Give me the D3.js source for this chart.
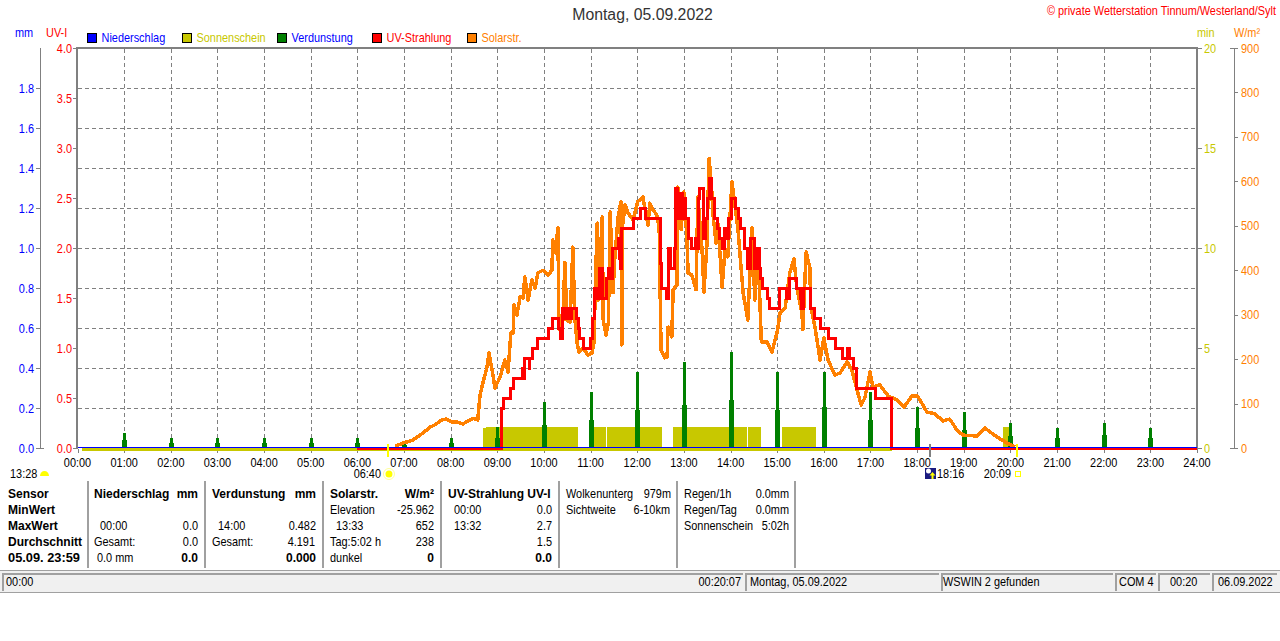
<!DOCTYPE html>
<html><head><meta charset="utf-8">
<script src="https://cdnjs.cloudflare.com/ajax/libs/d3/7.8.5/d3.min.js"></script>
<style>
html,body{margin:0;padding:0;background:#fff;overflow:hidden}
svg{display:block}
text{font-family:"Liberation Sans",Arial,sans-serif;font-size:12px}
</style></head><body><svg id="c" width="1280" height="641"></svg>
<script>
const title="Montag, 05.09.2022";
const copyright="© private Wetterstation Tinnum/Westerland/Sylt";
const hourTicks=d3.range(0,25);
const mmTicks=[0,0.2,0.4,0.6,0.8,1.0,1.2,1.4,1.6,1.8];
const uvTicks=[0,0.5,1,1.5,2,2.5,3,3.5,4];
const minTicks=[0,5,10,15,20];
const wTicks=[0,100,200,300,400,500,600,700,800,900];
const gridMm=d3.range(0,2.01,0.2);
const legendNames=["Niederschlag","Sonnenschein","Verdunstung","UV-Strahlung","Solarstr."];
const legendFill=["#0000ff","#c8c800","#008000","#ff0000","#ff8000"];
const legendText=["#0000ff","#c8c800","#0000ff","#ff0000","#ff8000"];

// hour, W/m2
const solarHours=[6.81,6.98,7.19,7.41,7.56,7.66,7.81,7.90,8.03,8.16,8.26,8.41,8.48,8.58,8.63,8.69,8.78,8.82,8.89,8.95,9.06,9.10,9.16,9.23,9.29,9.34,9.36,9.42,9.49,9.55,9.59,9.66,9.74,9.81,9.87,9.98,10.09,10.17,10.19,10.24,10.30,10.32,10.39,10.45,10.49,10.56,10.62,10.66,10.71,10.75,10.84,10.94,11.03,11.07,11.14,11.16,11.25,11.27,11.33,11.38,11.42,11.48,11.52,11.59,11.65,11.67,11.68,11.74,11.80,11.91,12.01,12.12,12.17,12.23,12.27,12.34,12.42,12.47,12.51,12.59,12.64,12.66,12.74,12.77,12.85,12.87,12.94,13.00,13.06,13.09,13.17,13.26,13.30,13.39,13.43,13.49,13.54,13.60,13.62,13.69,13.73,13.82,13.88,13.94,14.03,14.10,14.16,14.27,14.37,14.46,14.52,14.59,14.66,14.78,14.89,15.01,15.06,15.17,15.27,15.36,15.42,15.53,15.55,15.62,15.70,15.72,15.81,15.92,16.00,16.09,16.24,16.35,16.50,16.60,16.71,16.80,16.88,16.99,17.05,17.20,17.38,17.57,17.72,17.89,18.01,18.21,18.38,18.55,18.70,18.85,18.98,19.28,19.45,19.71,19.93,20.10];
const solarValues=[4,11,18,34,47,52,63,65,58,58,54,63,67,63,119,146,182,214,175,135,160,175,198,171,259,259,322,299,340,337,385,333,378,360,394,400,389,400,468,439,495,272,250,418,288,283,452,295,236,216,225,209,214,236,506,333,520,288,254,281,531,349,430,520,554,232,497,547,529,513,554,565,536,502,551,536,524,497,220,203,205,272,250,356,367,587,491,576,484,394,389,356,565,446,351,452,652,574,529,461,506,362,446,430,599,542,491,349,288,495,333,446,239,239,216,266,304,315,394,425,362,304,266,441,407,317,272,198,248,198,164,169,194,176,131,97,113,171,137,142,117,108,92,117,117,81,77,61,65,41,29,27,45,25,11,2];

// hour at which each UV reading starts, UV index
const uvHours=[6.00,9.07,9.08,9.10,9.13,9.28,9.35,9.53,9.55,9.58,9.68,9.70,9.75,9.87,10.09,10.19,10.31,10.36,10.39,10.47,10.50,10.56,10.58,10.69,10.73,10.77,10.84,11.00,11.05,11.08,11.09,11.14,11.18,11.20,11.25,11.35,11.38,11.42,11.46,11.59,11.63,11.65,11.66,11.91,12.06,12.17,12.50,12.51,12.62,12.66,12.68,12.72,12.79,12.83,12.87,12.92,12.96,12.98,13.04,13.09,13.17,13.24,13.28,13.32,13.34,13.41,13.47,13.51,13.55,13.60,13.66,13.71,13.77,13.82,13.88,13.92,13.96,14.01,14.10,14.16,14.22,14.29,14.37,14.42,14.52,14.57,14.63,14.65,14.69,14.80,14.84,15.06,15.21,15.27,15.42,15.49,15.53,15.57,15.72,15.81,15.92,16.09,16.24,16.39,16.50,16.54,16.63,16.71,17.10,17.44,17.46,24];
const uvValues=[0,0,0.3,0.4,0.5,0.6,0.7,0.8,0.7,0.9,0.8,0.9,1.0,1.1,1.2,1.3,1.2,1.1,1.4,1.3,1.4,1.3,1.4,1.3,1.2,1.1,1.0,1.1,1.3,1.4,1.6,1.5,1.7,1.8,1.5,1.7,1.8,1.7,2.0,2.1,1.9,1.8,2.2,2.3,2.4,2.3,1.85,1.6,1.5,1.7,2.0,1.8,2.0,2.6,2.3,2.55,2.3,2.5,2.3,2.1,2.0,2.1,2.0,2.5,2.6,2.1,2.3,2.5,2.7,2.5,2.3,2.2,2.1,2.0,2.2,2.1,2.3,2.5,2.4,2.3,2.2,2.0,1.8,2.1,1.8,2.0,1.8,1.7,1.6,1.5,1.4,1.6,1.5,1.7,1.6,1.5,1.4,1.6,1.4,1.3,1.2,1.1,1.0,0.9,1.0,0.9,0.8,0.6,0.5,0.25,0,0];

// evaporation at each full hour, mm
const evapHours=[1,2,3,4,5,6,7,8,9,10,11,12,13,14,15,16,17,18,19,20,21,22,23];
const evapPeak=[0.075,0.05,0.05,0.05,0.05,0.05,0.03,0.05,0.105,0.23,0.28,0.38,0.43,0.482,0.38,0.38,0.28,0.205,0.18,0.125,0.10,0.125,0.10];
const evapLow=[0.04,0.025,0.025,0.025,0.025,0.025,0.015,0.025,0.05,0.115,0.14,0.19,0.215,0.24,0.19,0.205,0.14,0.10,0.09,0.06,0.05,0.065,0.05];

// sunshine blocks: start hour, end hour, minutes
const sunStart=[8.69,8.75,11.07,11.35,12.76,14.37,15.10,19.84];
const sunEnd=[8.75,10.73,11.33,12.53,14.35,14.66,15.83,19.98];
const sunMin=[1.0,1.05,1.05,1.05,1.05,1.05,1.05,1.05];

const hourLabel=h=>String(h).padStart(2,"0")+":00";
const svg=d3.select("#c");
const x=d3.scaleLinear().domain([0,24]).range([77.5,1197]);
const yMm=d3.scaleLinear().domain([0,2]).range([448,48]);
const yUv=d3.scaleLinear().domain([0,4]).range([448,48]);
const yMin=d3.scaleLinear().domain([0,20]).range([448,48]);
const yW=d3.scaleLinear().domain([0,900]).range([448,48]);
const GREY="#808080";

function T(px,py,s,o={}){
  const sx=o.sx||(o.bold||o.size?1:0.91);
  return svg.append("text").attr("transform",`translate(${px},${py}) scale(${sx},1)`).text(s)
    .attr("fill",o.fill||"#000").attr("text-anchor",o.anchor||"start")
    .style("font-size",(o.size||12)+"px").style("font-weight",o.bold?"bold":"normal");
}
function L(x1,y1,x2,y2,c,w,dash){
  const l=svg.append("line").attr("x1",x1).attr("y1",y1).attr("x2",x2).attr("y2",y2)
   .attr("stroke",c).attr("stroke-width",w||1).attr("shape-rendering","crispEdges");
  if(dash)l.attr("stroke-dasharray",dash);return l;
}
// grid
svg.append("g").selectAll("line").data(hourTicks.slice(1,24)).join("line")
  .attr("x1",d=>Math.round(x(d))+.5).attr("x2",d=>Math.round(x(d))+.5).attr("y1",49).attr("y2",448)
  .attr("stroke",GREY).attr("stroke-dasharray","4 3").attr("shape-rendering","crispEdges");
svg.append("g").selectAll("line").data(gridMm.slice(1,10)).join("line")
  .attr("y1",d=>Math.round(yMm(d))+.5).attr("y2",d=>Math.round(yMm(d))+.5).attr("x1",78).attr("x2",1196)
  .attr("stroke",GREY).attr("stroke-dasharray","4 3").attr("shape-rendering","crispEdges");
// frame
L(76,48,1198,48,GREY,2);
L(77,48,77,449,GREY,2);
L(1197,48,1197,449,GREY,2);
// axes
L(40.5,48,40.5,449,GREY,1);
mmTicks.forEach(v=>{L(36,yMm(v)+.5,v==0?44:41,yMm(v)+.5,GREY);
  T(34,yMm(v)+4.5,d3.format(".1f")(v),{fill:"#0000ff",anchor:"end"});});
uvTicks.forEach(v=>{L(73,yUv(v)+.5,77,yUv(v)+.5,GREY);
  T(72,yUv(v)+4.5,d3.format(".1f")(v),{fill:"#ff0000",anchor:"end"});});
minTicks.forEach(v=>{L(1198,yMin(v)+.5,1202,yMin(v)+.5,GREY);
  T(1204,yMin(v)+4.5,String(v),{fill:"#c8c800"});});
L(1234.5,48,1234.5,449,GREY,1);
wTicks.forEach(v=>{L(v==0||v==900?1230:1235,yW(v)+.5,1238,yW(v)+.5,GREY);
  T(1241,yW(v)+4.5,String(v),{fill:"#ff8000"});});
hourTicks.forEach(h=>{L(Math.round(x(h))+.5,449,Math.round(x(h))+.5,453,GREY);
  T(x(h),467,hourLabel(h),{anchor:"middle"});});
// sunshine
svg.append("g").selectAll("rect").data(sunStart).join("rect")
  .attr("x",(d,i)=>x(d)).attr("width",(d,i)=>x(sunEnd[i])-x(d))
  .attr("y",(d,i)=>yMin(sunMin[i])).attr("height",(d,i)=>yMin(0)-yMin(sunMin[i]))
  .attr("fill","#c8c800").attr("shape-rendering","crispEdges");
svg.append("path").attr("d",d3.line()([[x(0)+4,yMin(0)+1],[x(17.46),yMin(0)+1]]))
  .attr("stroke","#c8c800").attr("stroke-width",3).attr("fill","none").attr("shape-rendering","crispEdges");
// evaporation
svg.append("g").selectAll("rect").data(evapHours).join("rect")
  .attr("x",d=>Math.round(x(d))-1).attr("width",3)
  .attr("y",(d,i)=>yMm(evapPeak[i])).attr("height",(d,i)=>yMm(0)-yMm(evapPeak[i]))
  .attr("fill","#008000").attr("shape-rendering","crispEdges");
svg.append("g").selectAll("rect").data(evapHours).join("rect")
  .attr("x",d=>Math.round(x(d))-2).attr("width",5)
  .attr("y",(d,i)=>yMm(evapLow[i])).attr("height",(d,i)=>yMm(0)-yMm(evapLow[i]))
  .attr("fill","#008000").attr("shape-rendering","crispEdges");
// solar
svg.append("path").datum(solarHours.map((h,i)=>[h,solarValues[i]]))
  .attr("d",d3.line().x(d=>x(d[0])).y(d=>yW(d[1])))
  .attr("fill","none").attr("stroke","#ff8000").attr("stroke-width",3.5).attr("stroke-linejoin","round").attr("shape-rendering","crispEdges");
// UV
svg.append("path").datum(uvHours.map((h,i)=>[h,uvValues[i]]))
  .attr("d",d3.line().curve(d3.curveStepAfter).x(d=>x(d[0])).y(d=>yUv(d[1])+.5))
  .attr("fill","none").attr("stroke","#ff0000").attr("stroke-width",3).attr("shape-rendering","crispEdges");
// precipitation
svg.append("path").attr("d",d3.line()([[x(0),yMm(0)-.5],[x(24),yMm(0)-.5]]))
  .attr("stroke","#0000ff").attr("stroke-width",1).attr("fill","none").attr("shape-rendering","crispEdges");
// texts top
T(642.5,20,title,{anchor:"middle",size:15.8,fill:"#333"});
T(1276,15,copyright,{anchor:"end",fill:"#ff0000"});
T(15,37,"mm",{fill:"#0000ff"});T(46,37,"UV-I",{fill:"#ff0000"});
T(1197,37,"min",{fill:"#c8c800"});T(1234,37,"W/m²",{fill:"#ff8000"});
legendNames.forEach((n,i)=>{
  const lx=87.5+95*i;
  svg.append("rect").attr("x",lx).attr("y",33.5).attr("width",9).attr("height",9)
    .attr("fill",legendFill[i]).attr("stroke","#000").attr("shape-rendering","crispEdges");
  T(lx+14,42,n,{fill:legendText[i]});
});
// sun marks
const sunrise=6+40/60, sunset=20+9/60, moon=18+16/60;
L(x(sunrise),444,x(sunrise),457,"#ffff00",2);
L(x(sunset),444,x(sunset),457,"#ffff00",2);
L(x(moon),444,x(moon),457,GREY,2);
T(381,478,"06:40",{anchor:"end"});
svg.append("circle").attr("cx",x(sunrise)+.5).attr("cy",474).attr("r",3.5).attr("fill","#ffff00");
svg.append("circle").attr("cx",x(sunrise)+.5).attr("cy",474).attr("r",5.5).attr("fill","none").attr("stroke","#ffff99");
T(10,478,"13:28");
svg.append("path").attr("d","M40 476a4.5 5 0 0 1 9 0z").attr("fill","#ffff00");
svg.append("rect").attr("x",925).attr("y",468).attr("width",11).attr("height",11).attr("fill","#1a1a80");
svg.append("circle").attr("cx",928.5).attr("cy",471).attr("r",2.5).attr("fill","#fff");
svg.append("path").attr("d","M932.5 472l3 3.5h-2v3.5h-2v-3.5h-2z").attr("fill","#ffff00");
T(937,478,"18:16");
T(1011,478,"20:09",{anchor:"end"});
svg.append("rect").attr("x",1015.5).attr("y",471.5).attr("width",5).attr("height",5).attr("fill","none").attr("stroke","#ffff00");
// panels
const sepX=[88,205,323,441,559,677,795];
sepX.forEach(s=>{L(s,481,s,568,"#a0a0a0",1.5);});
const rowY=[498,514,530,546,562];
const panelLeft=[
 [8,0,"Sensor",1],[8,1,"MinWert",1],[8,2,"MaxWert",1],[8,3,"Durchschnitt",1],[8,4,"05.09. 23:59",1,1.07],
 [94,0,"Niederschlag",1],[100,2,"00:00"],[94,3,"Gesamt:"],[97,4,"0.0 mm"],
 [212,0,"Verdunstung",1],[218,2,"14:00"],[212,3,"Gesamt:"],
 [330,0,"Solarstr.",1],[330,1,"Elevation"],[336,2,"13:33"],[330,3,"Tag:5:02 h"],[330,4,"dunkel"],
 [448,0,"UV-Strahlung UV-I",1],[454,1,"00:00"],[454,2,"13:32"],
 [566,0,"Wolkenunterg"],[566,1,"Sichtweite"],
 [684,0,"Regen/1h"],[684,1,"Regen/Tag"],[684,2,"Sonnenschein"]];
const panelRight=[
 [198,0,"mm",1],[198,2,"0.0"],[198,3,"0.0"],[198,4,"0.0",1],
 [316,0,"mm",1],[316,2,"0.482"],[315,3,"4.191"],[316,4,"0.000",1],
 [434,0,"W/m²",1],[434,1,"-25.962"],[434,2,"652"],[434,3,"238"],[434,4,"0",1],
 [552,1,"0.0"],[552,2,"2.7"],[552,3,"1.5"],[552,4,"0.0",1],
 [671,0,"979m"],[670,1,"6-10km"],
 [789,0,"0.0mm"],[789,1,"0.0mm"],[789,2,"5:02h"]];
panelLeft.forEach(p=>T(p[0],rowY[p[1]],p[2],{bold:p[3],sx:p[4]}));
panelRight.forEach(p=>T(p[0],rowY[p[1]],p[2],{bold:p[3],anchor:"end"}));
// status bar
svg.append("rect").attr("x",0).attr("y",570).attr("width",1280).attr("height",23).attr("fill","#f0f0f0");
L(0,570.5,1280,570.5,"#a0a0a0",1.5);
L(0,592.5,1280,592.5,"#a0a0a0",1);
const paneX=[2,745,941,1115,1158,1212];
const paneEnd=[743,939,1113,1156,1210,1277];
paneX.forEach((p,i)=>{L(p,573.5,paneEnd[i],573.5,"#a0a0a0",2);L(p+.5,573,p+.5,591,"#a0a0a0",2);});
T(6,586,"00:00");T(741,586,"00:20:07",{anchor:"end"});T(750,586,title);
T(943,586,"WSWIN 2 gefunden");T(1119,586,"COM 4");T(1170,586,"00:20");T(1218,586,"06.09.2022");
</script></body></html>
